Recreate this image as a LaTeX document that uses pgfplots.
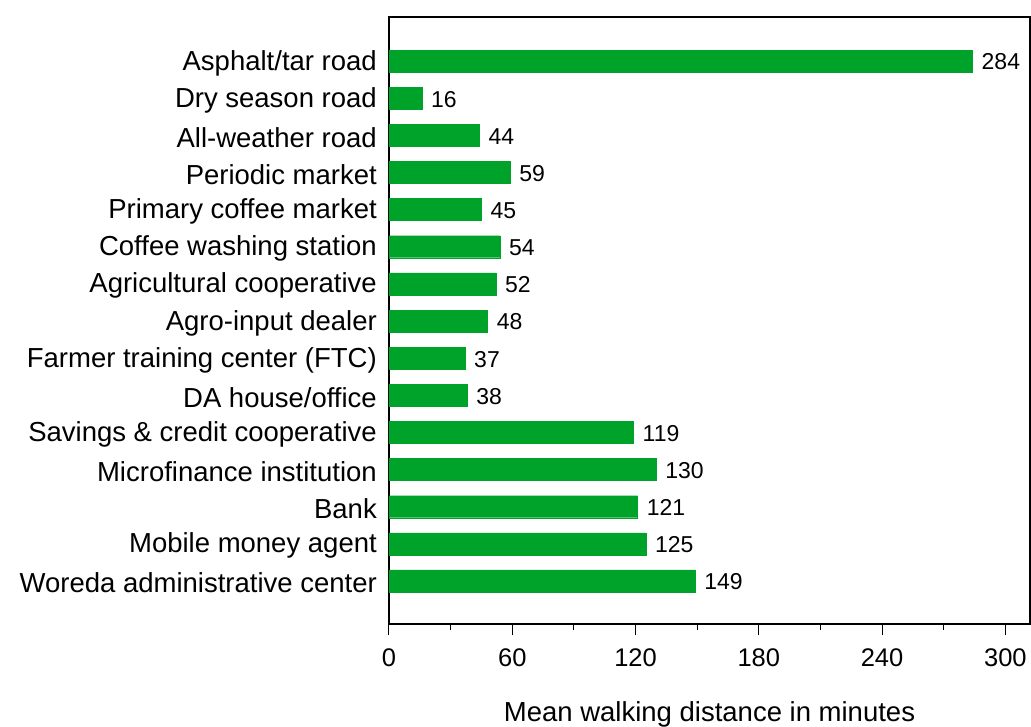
\documentclass[border=0pt]{standalone}
\usepackage{fontspec}
\setmainfont{Liberation Sans}
\usepackage{pgfplots}
\pgfplotsset{compat=1.18}
\definecolor{bargreen}{HTML}{00A32A}
\begin{document}
\begin{tikzpicture}
\path[use as bounding box] (0,0) rectangle (1031pt,726pt);
\begin{axis}[
  at={(389pt,102pt)}, anchor=south west,
  scale only axis, width=641pt, height=607pt,
  xbar, bar width=22pt,
  xmin=0, xmax=312, ymin=-1.185, ymax=15.158, y dir=reverse,
  ytick={0,...,14},
  yticklabels={Asphalt/tar road, Dry season road, All-weather road, Periodic market, Primary coffee market, Coffee washing station, Agricultural cooperative, Agro-input dealer, Farmer training center (FTC), DA house/office, Savings \& credit cooperative, Microfinance institution, Bank, Mobile money agent, Woreda administrative center},
  yticklabel style={font=\fontsize{27.5}{30}\selectfont, inner sep=0pt, xshift=-1pt, yshift=-2pt},
  ytick style={draw=none},
  xtick={0,60,...,300}, minor x tick num=1,
  xtick pos=bottom, tick align=outside,
  major tick length=11pt, minor tick length=6pt,
  xtick style={black, line width=1pt},
  xticklabel style={font=\fontsize{25.5}{28}\selectfont, yshift=-10pt},
  /pgf/number format/assume math mode=true,
  axis line style={black, line width=1.2pt},
  xlabel={Mean walking distance in minutes},
  xlabel style={font=\fontsize{27.5}{30}\selectfont, yshift=-28pt},
  nodes near coords,
  nodes near coords style={anchor=west, inner sep=0pt, xshift=9pt, yshift=-1pt, font=\fontsize{23}{25}\selectfont, black},
]
\addplot[fill=bargreen, draw=bargreen] coordinates {
(284,0) (16,1) (44,2) (59,3) (45,4) (54,5) (52,6) (48,7) (37,8) (38,9) (119,10) (130,11) (121,12) (125,13) (149,14)
};
\end{axis}
\end{tikzpicture}
\end{document}
